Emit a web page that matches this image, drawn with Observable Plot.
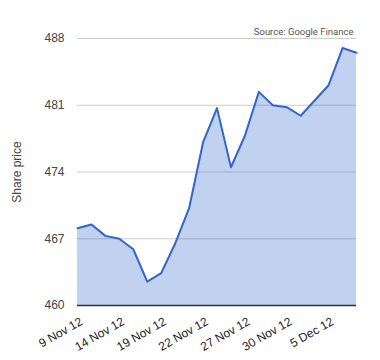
<!DOCTYPE html>
<html>
<head>
<meta charset="utf-8">
<script src="https://cdn.jsdelivr.net/npm/d3@7"></script>
<script src="https://cdn.jsdelivr.net/npm/@observablehq/plot@0.6"></script>
<style>
  html, body { margin: 0; padding: 0; background: #fff; }
  #chart { width: 380px; height: 360px; }
</style>
</head>
<body>
<div id="chart"></div>
<script>
const dates = ["9 Nov 12","12 Nov 12","13 Nov 12","14 Nov 12","15 Nov 12","16 Nov 12",
  "19 Nov 12","20 Nov 12","21 Nov 12","22 Nov 12","23 Nov 12","26 Nov 12","27 Nov 12",
  "28 Nov 12","29 Nov 12","30 Nov 12","3 Dec 12","4 Dec 12","5 Dec 12","6 Dec 12","7 Dec 12"];
const prices = [468.1, 468.5, 467.3, 467.0, 465.9, 462.5, 463.4, 466.5, 470.2, 477.1, 480.7,
  474.5, 477.8, 482.4, 481.0, 480.8, 479.9, 481.5, 483.1, 487.0, 486.5];
const xTicks = ["9 Nov 12","14 Nov 12","19 Nov 12","22 Nov 12","27 Nov 12","30 Nov 12","5 Dec 12"];
const yTicks = [460, 467, 474, 481, 488];
const source = "Source: Google Finance";

const data = dates.map((d, i) => ({i, date: d, price: prices[i]}));
const tickIdx = xTicks.map(t => dates.indexOf(t));

const chart = Plot.plot({
  width: 380,
  height: 360,
  marginLeft: 77,
  marginRight: 24,
  marginTop: 38,
  marginBottom: 55,
  style: {fontFamily: "Arial, 'Liberation Sans', sans-serif", fontSize: "12px", background: "#fff"},
  x: {domain: [0, dates.length - 1]},
  y: {domain: [460, 488]},
  marks: [
    Plot.gridY(yTicks, {stroke: "#cccccc", strokeOpacity: 1, strokeWidth: 1}),
    Plot.areaY(data, {x: "i", y1: 460, y2: "price", fill: "#3366cc", fillOpacity: 0.3}),
    Plot.ruleY([460], {stroke: "#333333", strokeWidth: 1.5}),
    Plot.lineY(data, {x: "i", y: "price", stroke: "#3366cc", strokeWidth: 2}),
    Plot.axisY({ticks: yTicks, tickSize: 0, tickPadding: 13, fill: "#444", fontSize: 12,
      label: "Share price", labelAnchor: "center", labelArrow: "none", labelOffset: 65}),
    Plot.axisX({ticks: tickIdx, tickFormat: i => dates[i], tickSize: 0, tickPadding: 15, dx: 4, tickRotate: -30,
      fill: "#222", fontSize: 12, label: null}),
    Plot.text([source], {frameAnchor: "top-right", dy: -10, dx: -3, fill: "#555", fontSize: 9.5,
      fontFamily: "Roboto, Arial, sans-serif", text: d => d})
  ]
});
document.getElementById("chart").appendChild(chart);
</script>
</body>
</html>
